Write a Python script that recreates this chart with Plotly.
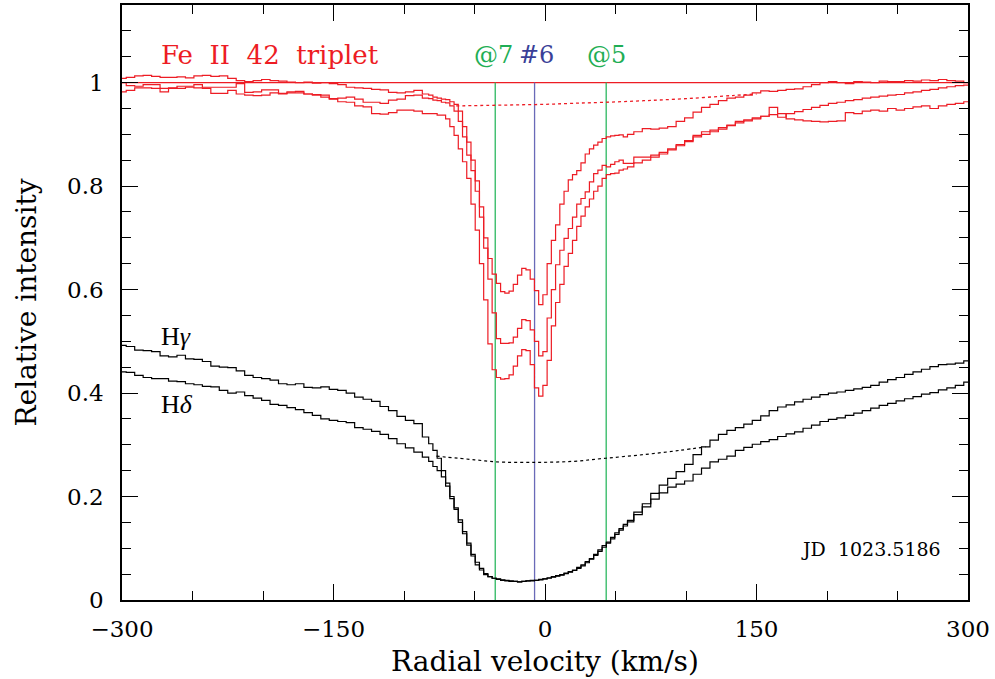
import plotly.graph_objects as go

# ---------------- data ----------------
# velocity bins (km/s): coarse in the wings, finer in the line core
V_LEFT = list(range(-300, -83, 6))
V_CORE = list(range(-81, 61, 3))
V_RIGHT = list(range(66, 301, 6))
VEL = V_LEFT + V_CORE + V_RIGHT

# Fe II 42 triplet (three lines)
FE_A = [1.008, 1.010, 1.013, 1.014, 1.012, 1.010, 1.010, 1.011, 1.009, 1.013,
        1.014, 1.012, 1.013, 1.008, 1.004, 1.002, 1.004, 1.006, 1.004, 1.003,
        1.001, 1.000, 1.001, 0.999, 1.000, 0.998, 0.996, 0.991, 0.990, 0.989,
        0.987, 0.986, 0.981, 0.980, 0.982, 0.985, 0.978] + \
       [0.976, 0.972, 0.970, 0.968, 0.967, 0.963, 0.958, 0.945, 0.915, 0.885,
        0.850, 0.810, 0.760, 0.700, 0.660, 0.630, 0.612, 0.596, 0.593, 0.597,
        0.610, 0.628, 0.641, 0.638, 0.620, 0.598, 0.571, 0.590, 0.650, 0.695,
        0.725, 0.765, 0.790, 0.812, 0.822, 0.830, 0.845, 0.862, 0.872, 0.879,
        0.885, 0.892, 0.895, 0.897, 0.898, 0.899, 0.895, 0.900] + \
       [0.905, 0.911, 0.910, 0.912, 0.915, 0.925, 0.932, 0.943, 0.952, 0.958,
        0.965, 0.970, 0.972, 0.976, 0.980, 0.984, 0.983, 0.985, 0.987, 0.988,
        0.992, 0.996, 1.000, 1.002, 1.000, 0.998, 1.002, 1.001, 1.000, 1.003,
        1.002, 1.002, 1.004, 1.003, 1.005, 1.004, 1.006, 1.004, 1.003, 1.000]

FE_B = [1.000, 0.994, 0.993, 0.996, 0.996, 0.989, 0.989, 0.993, 0.993, 0.996,
        0.991, 0.991, 0.991, 0.991, 0.998, 0.981, 0.982, 0.986, 0.986, 0.979,
        0.982, 0.983, 0.978, 0.977, 0.976, 0.969, 0.970, 0.972, 0.968, 0.962,
        0.962, 0.960, 0.966, 0.968, 0.975, 0.976, 0.970] + \
       [0.969, 0.966, 0.965, 0.962, 0.961, 0.955, 0.945, 0.925, 0.895, 0.860,
        0.830, 0.790, 0.740, 0.680, 0.620, 0.555, 0.505, 0.496, 0.496, 0.497,
        0.508, 0.525, 0.542, 0.540, 0.522, 0.500, 0.472, 0.480, 0.545, 0.600,
        0.648, 0.676, 0.699, 0.718, 0.740, 0.765, 0.776, 0.789, 0.808, 0.824,
        0.831, 0.840, 0.837, 0.842, 0.847, 0.850, 0.844, 0.844] + \
       [0.856, 0.856, 0.860, 0.865, 0.872, 0.880, 0.888, 0.898, 0.905, 0.908,
        0.913, 0.918, 0.925, 0.928, 0.932, 0.935, 0.938, 0.933, 0.940, 0.944,
        0.948, 0.952, 0.956, 0.960, 0.962, 0.965, 0.967, 0.970, 0.972, 0.974,
        0.976, 0.977, 0.980, 0.982, 0.985, 0.987, 0.990, 0.992, 0.994, 0.995]

FE_C = [0.982, 0.985, 0.990, 0.990, 0.989, 0.982, 0.990, 0.989, 0.991, 0.990,
        0.989, 0.979, 0.979, 0.985, 0.978, 0.976, 0.975, 0.976, 0.980, 0.978,
        0.980, 0.980, 0.978, 0.976, 0.972, 0.968, 0.963, 0.962, 0.955, 0.953,
        0.940, 0.939, 0.942, 0.947, 0.947, 0.945, 0.940] + \
       [0.940, 0.940, 0.937, 0.937, 0.930, 0.915, 0.898, 0.872, 0.847, 0.815,
        0.765, 0.715, 0.650, 0.580, 0.495, 0.445, 0.430, 0.427, 0.428, 0.435,
        0.452, 0.472, 0.484, 0.482, 0.455, 0.410, 0.394, 0.415, 0.463, 0.530,
        0.575, 0.610, 0.645, 0.670, 0.695, 0.722, 0.742, 0.760, 0.775, 0.790,
        0.800, 0.815, 0.822, 0.824, 0.825, 0.831, 0.833, 0.837] + \
       [0.845, 0.850, 0.856, 0.862, 0.870, 0.878, 0.886, 0.895, 0.900, 0.905,
        0.910, 0.917, 0.922, 0.926, 0.930, 0.935, 0.952, 0.940, 0.930, 0.928,
        0.926, 0.925, 0.924, 0.925, 0.926, 0.942, 0.940, 0.945, 0.947, 0.945,
        0.950, 0.947, 0.950, 0.953, 0.955, 0.950, 0.955, 0.958, 0.960, 0.963]

# Balmer lines
H_GAMMA = [0.492, 0.490, 0.483, 0.482, 0.480, 0.472, 0.470, 0.473, 0.466, 0.465,
           0.461, 0.452, 0.450, 0.449, 0.443, 0.434, 0.430, 0.428, 0.425, 0.418,
           0.416, 0.418, 0.411, 0.410, 0.412, 0.407, 0.405, 0.400, 0.392, 0.388,
           0.384, 0.374, 0.366, 0.355, 0.347, 0.341, 0.315] + \
          [0.302, 0.289, 0.274, 0.250, 0.226, 0.200, 0.178, 0.155, 0.132, 0.110,
           0.088, 0.073, 0.061, 0.051, 0.045, 0.042, 0.041, 0.039, 0.038, 0.037,
           0.036, 0.035, 0.036, 0.037, 0.037, 0.038, 0.040, 0.041, 0.043, 0.045,
           0.047, 0.049, 0.052, 0.055, 0.058, 0.063, 0.068, 0.074, 0.080, 0.088,
           0.097, 0.105, 0.112, 0.121, 0.130, 0.138, 0.146, 0.154] + \
          [0.170, 0.186, 0.206, 0.222, 0.235, 0.248, 0.262, 0.281, 0.296, 0.309,
           0.320, 0.328, 0.333, 0.340, 0.347, 0.356, 0.366, 0.373, 0.377, 0.383,
           0.388, 0.392, 0.397, 0.400, 0.402, 0.405, 0.408, 0.411, 0.415, 0.421,
           0.426, 0.430, 0.436, 0.441, 0.446, 0.451, 0.455, 0.456, 0.458, 0.462]

H_DELTA = [0.441, 0.440, 0.434, 0.430, 0.428, 0.428, 0.423, 0.422, 0.418, 0.416,
           0.413, 0.412, 0.405, 0.400, 0.402, 0.395, 0.390, 0.386, 0.378, 0.376,
           0.372, 0.368, 0.362, 0.357, 0.350, 0.347, 0.345, 0.343, 0.333, 0.330,
           0.326, 0.320, 0.312, 0.302, 0.294, 0.286, 0.276] + \
          [0.268, 0.258, 0.250, 0.238, 0.220, 0.196, 0.175, 0.150, 0.128, 0.106,
           0.085, 0.068, 0.058, 0.049, 0.045, 0.042, 0.040, 0.038, 0.037, 0.036,
           0.036, 0.035, 0.036, 0.037, 0.038, 0.038, 0.039, 0.041, 0.042, 0.044,
           0.046, 0.048, 0.051, 0.054, 0.057, 0.061, 0.066, 0.072, 0.079, 0.086,
           0.094, 0.102, 0.110, 0.118, 0.127, 0.135, 0.143, 0.151] + \
          [0.165, 0.180, 0.195, 0.207, 0.218, 0.224, 0.230, 0.243, 0.255, 0.267,
           0.272, 0.278, 0.289, 0.295, 0.301, 0.306, 0.310, 0.316, 0.321, 0.325,
           0.332, 0.338, 0.345, 0.349, 0.352, 0.357, 0.361, 0.366, 0.371, 0.376,
           0.380, 0.385, 0.389, 0.393, 0.398, 0.401, 0.406, 0.410, 0.415, 0.421]

# interpolated continuum under the absorption (dotted)
FE_CONT_V = [-63, -40, -20, 0, 20, 43, 70, 100, 133, 150]
FE_CONT_Y = [0.955, 0.956, 0.957, 0.958, 0.960, 0.962, 0.965, 0.969, 0.975, 0.978]
H_CONT_V = [-77, -50, -35, -7, 20, 43, 70, 95, 114]
H_CONT_Y = [0.278, 0.271, 0.267, 0.266, 0.268, 0.274, 0.281, 0.289, 0.296]

# marked velocity components
MARK_LABELS = ["@7", "#6", "@5"]
MARK_VEL = [-35.3, -7.4, 43.4]
MARK_LABEL_VEL = [-36.5, -6.0, 43.4]
MARK_COLORS = ["#1fae55", "#3a3f98", "#1fae55"]
MARK_LINE_COLORS = ["#2cb860", "#6a6ab8", "#2cb860"]

X_TICKS = [-300, -150, 0, 150, 300]
X_TICK_TEXT = ["\u2212300", "\u2212150", "0", "150", "300"]
Y_TICKS = [0, 0.2, 0.4, 0.6, 0.8, 1.0]
Y_TICK_TEXT = ["0", "0.2", "0.4", "0.6", "0.8", "1"]

RED = "#ed1c24"
FONT = "DejaVu Serif"

# ---------------- figure ----------------
fig = go.Figure()

# continuum level
fig.add_trace(go.Scatter(x=[-300, 300], y=[1, 1], mode="lines",
                         line=dict(color=RED, width=1.3), hoverinfo="skip"))

# marker lines
for v, c in zip(MARK_VEL, MARK_LINE_COLORS):
    fig.add_trace(go.Scatter(x=[v, v], y=[0, 1], mode="lines",
                             line=dict(color=c, width=1.3), hoverinfo="skip"))

# dotted continua
fig.add_trace(go.Scatter(x=FE_CONT_V, y=FE_CONT_Y, mode="lines", line_shape="spline",
                         line=dict(color=RED, width=1.3, dash="dot")))
fig.add_trace(go.Scatter(x=H_CONT_V, y=H_CONT_Y, mode="lines", line_shape="spline",
                         line=dict(color="black", width=1.2, dash="dot")))

for ys in (H_GAMMA, H_DELTA):
    fig.add_trace(go.Scatter(x=VEL, y=ys, mode="lines", line_shape="hvh",
                             line=dict(color="black", width=1.2)))
for ys in (FE_A, FE_B, FE_C):
    fig.add_trace(go.Scatter(x=VEL, y=ys, mode="lines", line_shape="hvh",
                             line=dict(color=RED, width=1.2)))

# text
ann = []
ann.append(dict(x=-274, y=1.053, xref="x", yref="y", text="Fe  II  42  triplet",
                showarrow=False, xanchor="left", yanchor="middle",
                font=dict(family=FONT, size=26, color=RED)))
for lab, v, c in zip(MARK_LABELS, MARK_LABEL_VEL, MARK_COLORS):
    ann.append(dict(x=v, y=1.053, xref="x", yref="y", text=lab, showarrow=False,
                    xanchor="center", yanchor="middle",
                    font=dict(family=FONT, size=24, color=c)))
ann.append(dict(x=-274, y=0.51, xref="x", yref="y", text="H<i>\u03b3</i>",
                showarrow=False, xanchor="left", yanchor="middle",
                font=dict(family="Liberation Serif", size=26, color="black")))
ann.append(dict(x=-274, y=0.378, xref="x", yref="y", text="H<i>\u03b4</i>",
                showarrow=False, xanchor="left", yanchor="middle",
                font=dict(family="Liberation Serif", size=26, color="black")))
ann.append(dict(x=180, y=0.098, xref="x", yref="y", text="JD  1023.5186",
                showarrow=False, xanchor="left", yanchor="middle",
                font=dict(family=FONT, size=19, color="black")))

axis_common = dict(showgrid=False, zeroline=False, showline=True, linecolor="black",
                   linewidth=1.5, mirror="ticks", ticks="inside", ticklen=16,
                   tickwidth=1.3, tickcolor="black", automargin=False,
                   tickfont=dict(family=FONT, size=23, color="black"))

fig.update_layout(
    width=995, height=679,
    margin=dict(l=122, r=27, t=5, b=79),
    paper_bgcolor="white", plot_bgcolor="white",
    showlegend=False,
    annotations=ann,
    xaxis=dict(range=[-300, 300], tickvals=X_TICKS, ticktext=X_TICK_TEXT,
               minor=dict(dtick=50, ticklen=9, ticks="inside", tickcolor="black", tickwidth=1.2),
               title=dict(text="Radial velocity (km/s)", standoff=10,
                          font=dict(family=FONT, size=28, color="black")),
               ticklabelstandoff=8, **axis_common),
    yaxis=dict(range=[0, 1.15], tickvals=Y_TICKS, ticktext=Y_TICK_TEXT,
               minor=dict(dtick=0.05, ticklen=9, ticks="inside", tickcolor="black", tickwidth=1.2),
               title=dict(text="Relative intensity", standoff=22,
                          font=dict(family=FONT, size=28, color="black")),
               ticklabelstandoff=12, **axis_common),
)

fig.write_html("out.html",
               config={"displayModeBar": False},
               post_script="document.body.style.margin='0px';"
                           "document.body.style.overflow='hidden';")
